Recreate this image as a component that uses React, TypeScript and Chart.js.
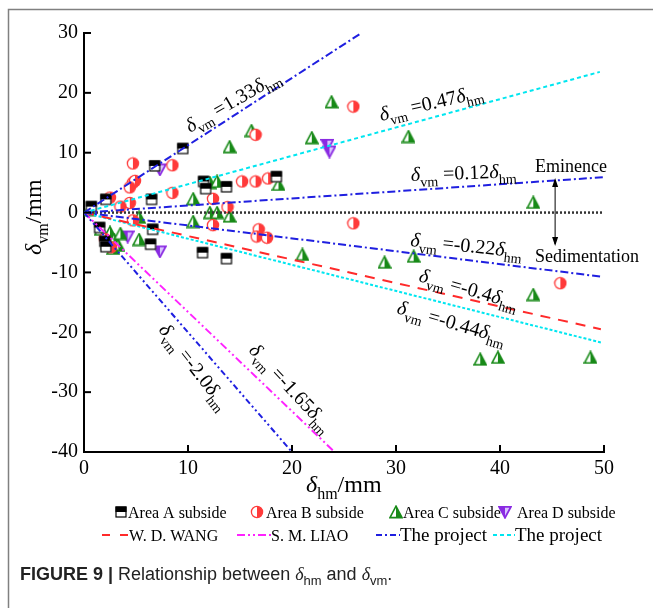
import React, { useEffect, useRef } from 'react';
import { Chart, registerables } from 'chart.js';
Chart.register(...registerables);

const xTicks = [0, 10, 20, 30, 40, 50];
const yTicks = [-40, -30, -20, -10, 0, 10, 20, 30];

const areaA_x = [0.7, 2.1, 6.8, 9.5, 6.5, 11.5, 11.7, 13.7, 18.5, 1.5, 2.0, 2.1, 6.6, 6.4, 11.4, 13.7];
const areaA_y = [1.0, 2.2, 7.8, 10.7, 2.2, 5.2, 4.0, 4.3, 6.0, -2.5, -4.8, -5.7, -2.8, -5.3, -6.7, -7.7];

const areaB_x = [4.7, 8.5, 4.7, 4.9, 4.4, 8.5, 4.4, 2.5, 3.5, 12.4, 13.8, 12.4, 4.7, 2.0, 2.6, 16.5, 15.2, 17.7, 16.5, 16.8, 16.6, 17.6, 25.9, 25.9, 45.8];
const areaB_y = [8.2, 7.9, 5.0, 5.3, 4.2, 3.3, 1.6, 2.5, 1.0, 2.3, 0.9, -2.1, -1.3, -4.4, -5.8, 5.2, 5.2, 5.7, 13.0, -2.8, -4.0, -4.2, 17.7, -1.8, -11.8];

const areaC_x = [0.5, 1.6, 2.5, 2.9, 3.3, 2.2, 2.8, 3.5, 5.3, 5.3, 10.5, 10.5, 12.1, 12.8, 14.0, 12.1, 12.8, 14.0, 16.1, 18.7, 21.9, 23.8, 31.2, 21.0, 28.9, 31.7, 43.2, 43.2, 38.1, 39.8, 48.7];
const areaC_y = [0.5, -2.8, -3.3, -4.5, -5.5, -5.0, -6.0, -3.5, -0.8, -4.5, 2.3, -1.5, 0.0, 0.0, -0.6, 5.0, 5.2, 11.0, 13.7, 4.7, 12.5, 18.5, 12.7, -7.0, -8.3, -7.3, 1.7, -13.7, -24.5, -24.2, -24.2];

const areaD_x = [7.3, 4.2, 7.3, 23.4, 23.6];
const areaD_y = [7.2, -4.0, -6.5, 11.3, 10.2];

// fitted lines: drawn end points (start at origin)
const lineSlopeText = ['1.33', '0.47', '0.12', '-0.22', '-0.4', '-0.44', '-2.0', '-1.65'];
const lineEndX = [26.5, 49.6, 49.9, 49.7, 49.7, 49.7, 20.0, 24.1];
const lineEndY = [29.8, 23.5, 5.9, -10.7, -19.5, -21.7, -40.0, -40.0];
const lineColor = ['#1f1fe0', '#00e6f0', '#1f1fe0', '#1f1fe0', '#ff2a2a', '#00e6f0', '#1f1fe0', '#ff22ff'];
const lineDash = [[8, 3, 2, 3], [4, 3], [8, 3, 2, 3], [8, 3, 2, 3], [10, 8], [3, 2], [6, 3, 2, 3, 2, 3], [8, 3, 2, 3, 2, 3]];

const legendRow1 = ['Area A subside', 'Area B subside', 'Area C subside', 'Area D subside'];
const legendRow2 = ['W. D. WANG', 'S. M. LIAO', 'The project', 'The project'];

const SERIF = '"Liberation Serif", "Times New Roman", serif';
const SANS = '"Liberation Sans", Arial, sans-serif';

function makeMarker(kind: string): HTMLCanvasElement {
  const s = 14;
  const c = document.createElement('canvas');
  c.width = s; c.height = s;
  const g = c.getContext('2d')!;
  if (kind === 'A') {
    g.fillStyle = '#fff'; g.fillRect(1.5, 1.5, 11, 11);
    g.fillStyle = '#000'; g.fillRect(1.5, 1.5, 11, 5.5);
    g.strokeStyle = '#000'; g.lineWidth = 1.2; g.strokeRect(2, 2, 10, 10);
  } else if (kind === 'B') {
    g.fillStyle = '#fff'; g.beginPath(); g.arc(7, 7, 5.6, 0, Math.PI * 2); g.fill();
    g.fillStyle = '#ff3a3a'; g.beginPath(); g.moveTo(7, 7); g.arc(7, 7, 5.6, -Math.PI / 2, Math.PI / 2); g.closePath(); g.fill();
    g.strokeStyle = '#ff3a3a'; g.lineWidth = 1.3; g.beginPath(); g.arc(7, 7, 5.6, 0, Math.PI * 2); g.stroke();
  } else if (kind === 'C') {
    g.beginPath(); g.moveTo(7, 1.2); g.lineTo(13, 12.6); g.lineTo(1, 12.6); g.closePath();
    g.fillStyle = '#fff'; g.fill();
    g.save(); g.clip(); g.fillStyle = '#188a18'; g.fillRect(7, 0, 8, 14); g.restore();
    g.strokeStyle = '#188a18'; g.lineWidth = 1.6; g.stroke();
  } else {
    g.beginPath(); g.moveTo(1, 1.8); g.lineTo(13, 1.8); g.lineTo(7, 12.8); g.closePath();
    g.fillStyle = '#d9c4ff'; g.fill();
    g.save(); g.clip(); g.fillStyle = '#8a2be2'; g.fillRect(0, 0, 7, 14); g.restore();
    g.strokeStyle = '#8a2be2'; g.lineWidth = 1.8; g.stroke();
  }
  return c;
}

function drawEq(ctx: CanvasRenderingContext2D, x: number, y: number, angle: number, slope: string, size = 20) {
  ctx.save();
  ctx.translate(x, y);
  ctx.rotate((angle * Math.PI) / 180);
  ctx.fillStyle = '#000';
  ctx.textAlign = 'left';
  ctx.textBaseline = 'alphabetic';
  const main = `${size}px ${SERIF}`;
  const ital = `italic ${size}px ${SERIF}`;
  const sub = `${Math.round(size * 0.7)}px ${SERIF}`;
  const parts: [string, string, number][] = [
    [ital, 'δ', 0], [sub, 'vm', size * 0.3], [main, ' =' + slope, 0], [ital, 'δ', 0], [sub, 'hm', size * 0.3],
  ];
  let cx = 0;
  for (const [f, t, dy] of parts) {
    ctx.font = f;
    ctx.fillText(t, cx, dy);
    cx += ctx.measureText(t).width;
  }
  ctx.restore();
}

function drawParts(ctx: CanvasRenderingContext2D, x: number, y: number, parts: [string, string, number][]) {
  let cx = x;
  for (const [f, t, dy] of parts) {
    ctx.font = f;
    ctx.fillText(t, cx, y + dy);
    cx += ctx.measureText(t).width;
  }
  return cx;
}

const eqPos: [number, number, number][] = [
  [190, 133, -30], [381, 121, -13], [411, 181, -2], [410, 246, 6], [418, 281, 16], [396, 313, 16], [158, 330, 52], [248, 351, 47],
];

export default function App() {
  const ref = useRef<HTMLCanvasElement>(null);
  useEffect(() => {
    const canvas = ref.current!;
    const mA = makeMarker('A'), mB = makeMarker('B'), mC = makeMarker('C'), mD = makeMarker('D');
    const toPts = (xs: number[], ys: number[]) => xs.map((x, i) => ({ x, y: ys[i] }));

    const lineSets: any[] = lineEndX.map((ex, i) => ({
      type: 'line',
      data: [{ x: 0, y: 0 }, { x: ex, y: lineEndY[i] }],
      borderColor: lineColor[i],
      borderWidth: 2,
      borderDash: lineDash[i],
      pointRadius: 0,
      fill: false,
    }));
    lineSets.push({
      type: 'line',
      data: [{ x: 0, y: 0 }, { x: 50, y: 0 }],
      borderColor: '#333',
      borderWidth: 2.5,
      borderDash: [2, 2],
      pointRadius: 0,
      fill: false,
    });
    const pointSet = (xs: number[], ys: number[], m: HTMLCanvasElement) => ({
      type: 'scatter',
      data: toPts(xs, ys),
      pointStyle: m,
      pointRadius: 6,
      showLine: false,
    });

    const overlay = {
      id: 'overlay',
      afterDraw(chart: any) {
        const ctx: CanvasRenderingContext2D = chart.ctx;
        const xs = chart.scales.x, ys = chart.scales.y;
        const ca = chart.chartArea;
        ctx.save();
        // figure frame
        ctx.strokeStyle = '#808080'; ctx.lineWidth = 1.5;
        ctx.beginPath(); ctx.moveTo(8.5, 608); ctx.lineTo(8.5, 9.5); ctx.lineTo(653, 9.5); ctx.stroke();
        // inward ticks
        ctx.strokeStyle = '#000'; ctx.lineWidth = 2;
        for (const v of xTicks) {
          const px = xs.getPixelForValue(v);
          ctx.beginPath(); ctx.moveTo(px, ca.bottom); ctx.lineTo(px, ca.bottom - 7); ctx.stroke();
        }
        for (const v of yTicks) {
          const py = ys.getPixelForValue(v);
          ctx.beginPath(); ctx.moveTo(ca.left, py); ctx.lineTo(ca.left + 7, py); ctx.stroke();
        }
        // equations
        eqPos.forEach((p, i) => drawEq(ctx, p[0], p[1], p[2], lineSlopeText[i]));
        // Eminence / Sedimentation
        ctx.fillStyle = '#000';
        ctx.font = `18px ${SERIF}`;
        ctx.fillText('Eminence', 535, 172);
        ctx.fillText('Sedimentation', 535, 262);
        const ax = xs.getPixelForValue(45.3);
        ctx.lineWidth = 1; ctx.strokeStyle = '#000';
        ctx.beginPath(); ctx.moveTo(ax, 180); ctx.lineTo(ax, 244); ctx.stroke();
        ctx.beginPath(); ctx.moveTo(ax, 178); ctx.lineTo(ax - 3, 187); ctx.lineTo(ax + 3, 187); ctx.closePath(); ctx.fill();
        ctx.beginPath(); ctx.moveTo(ax, 246); ctx.lineTo(ax - 3, 237); ctx.lineTo(ax + 3, 237); ctx.closePath(); ctx.fill();
        // axis titles
        const t = 24;
        drawParts(ctx, 306, 492, [[`italic ${t}px ${SERIF}`, 'δ', 0], [`${Math.round(t * 0.68)}px ${SERIF}`, 'hm', t * 0.3], [`${t}px ${SERIF}`, '/mm', 0]]);
        ctx.save();
        ctx.translate(41, 255);
        ctx.rotate(-Math.PI / 2);
        drawParts(ctx, 0, 0, [[`italic ${t}px ${SERIF}`, 'δ', 0], [`${Math.round(t * 0.68)}px ${SERIF}`, 'vm', t * 0.3], [`${t}px ${SERIF}`, '/mm', 0]]);
        ctx.restore();
        // legend row 1
        const r1 = 518, r1c = 512;
        const mk = [mA, mB, mC, mD];
        const mx = [121, 257, 396, 505];
        const tx = [128, 266, 403, 517];
        ctx.font = `16px ${SERIF}`;
        legendRow1.forEach((s, i) => {
          ctx.drawImage(mk[i], mx[i] - 7, r1c - 7);
          ctx.fillText(s, tx[i], r1);
        });
        // legend row 2
        const r2 = 541, r2c = 535;
        const seg = (x0: number, x1: number, col: string, dash: number[]) => {
          ctx.save(); ctx.strokeStyle = col; ctx.lineWidth = 2; ctx.setLineDash(dash);
          ctx.beginPath(); ctx.moveTo(x0, r2c); ctx.lineTo(x1, r2c); ctx.stroke(); ctx.restore();
        };
        seg(102, 128, lineColor[4], [8, 10]);
        seg(237, 271, lineColor[7], [8, 3, 2, 3, 2, 3]);
        seg(376, 400, lineColor[0], [6, 3, 2, 3]);
        seg(493, 515, lineColor[1], [4, 3]);
        ctx.fillStyle = '#000';
        ctx.font = `16px ${SERIF}`;
        ctx.fillText(legendRow2[0], 129, r2);
        ctx.fillText(legendRow2[1], 271, r2);
        ctx.font = `19px ${SERIF}`;
        ctx.fillText(legendRow2[2], 400, r2);
        ctx.fillText(legendRow2[3], 515, r2);
        // caption
        ctx.fillStyle = '#222';
        const cs = 18;
        drawParts(ctx, 20, 580, [
          [`bold ${cs}px ${SANS}`, 'FIGURE 9 | ', 0],
          [`${cs}px ${SANS}`, 'Relationship between ', 0],
          [`italic ${cs}px ${SERIF}`, 'δ', 0],
          [`${Math.round(cs * 0.7)}px ${SANS}`, 'hm', cs * 0.25],
          [`${cs}px ${SANS}`, ' and ', 0],
          [`italic ${cs}px ${SERIF}`, 'δ', 0],
          [`${Math.round(cs * 0.7)}px ${SANS}`, 'vm', cs * 0.25],
          [`${cs}px ${SANS}`, '.', 0],
        ]);
        ctx.restore();
      },
    };

    const chart = new Chart(canvas, {
      type: 'scatter',
      data: {
        datasets: [
          ...lineSets,
          pointSet(areaA_x, areaA_y, mA),
          pointSet(areaB_x, areaB_y, mB),
          pointSet(areaC_x, areaC_y, mC),
          pointSet(areaD_x, areaD_y, mD),
        ] as any,
      },
      options: {
        animation: false,
        responsive: false,
        devicePixelRatio: 1,
        layout: { padding: { left: 0, right: 49, top: 33, bottom: 116 } },
        plugins: { legend: { display: false }, tooltip: { enabled: false } },
        scales: {
          x: {
            type: 'linear', min: 0, max: 50,
            afterFit: (s: any) => { s.height = 40; },
            afterBuildTicks: (s: any) => { s.ticks = xTicks.map((v) => ({ value: v })); },
            grid: { display: false, drawTicks: false },
            border: { display: true, color: '#000', width: 2 },
            ticks: { color: '#000', font: { family: SERIF, size: 20 }, padding: 5, maxRotation: 0, autoSkip: false },
          },
          y: {
            type: 'linear', min: -40, max: 30,
            afterFit: (s: any) => { s.width = 84; },
            afterBuildTicks: (s: any) => { s.ticks = yTicks.map((v) => ({ value: v })); },
            grid: { display: false, drawTicks: false },
            border: { display: true, color: '#000', width: 2 },
            ticks: { color: '#000', font: { family: SERIF, size: 20 }, padding: 6, autoSkip: false },
          },
        },
      } as any,
      plugins: [overlay],
    });
    return () => chart.destroy();
  }, []);
  return (
    <div style={{ position: 'fixed', left: 0, top: 0, width: 653, height: 608, background: '#fff' }}>
      <canvas ref={ref} width={653} height={608} style={{ display: 'block' }} />
    </div>
  );
}
